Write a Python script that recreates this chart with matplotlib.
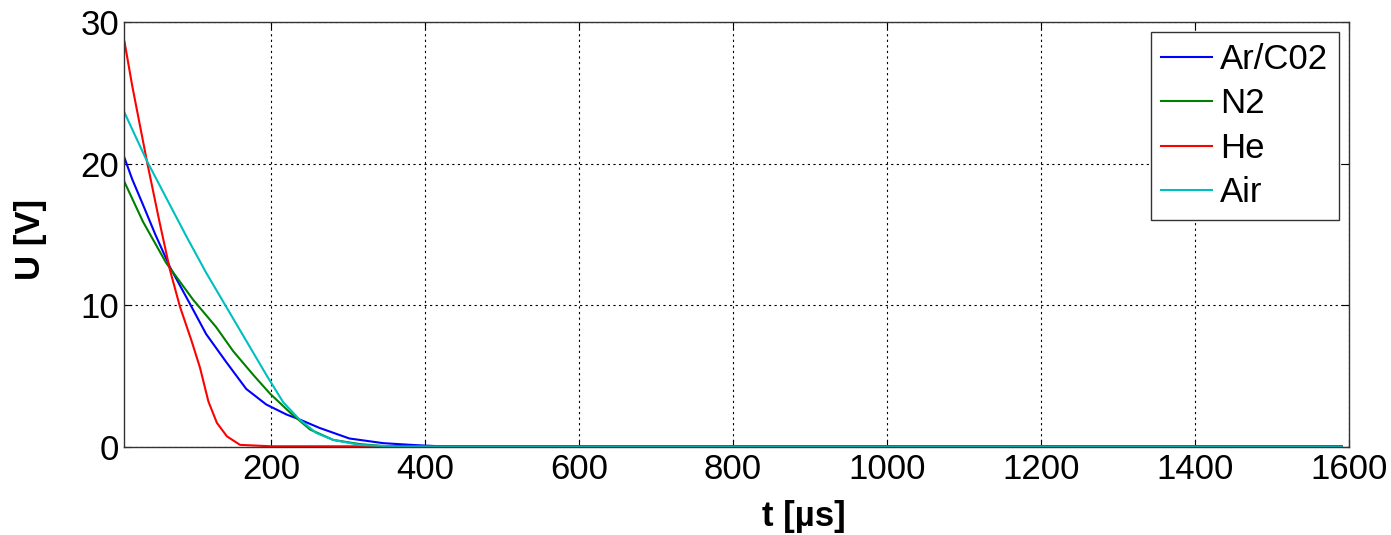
import numpy as np
import matplotlib.pyplot as plt

plt.rcParams['font.family'] = ['Liberation Sans', 'DejaVu Sans']

# decay curves read per gas, time in microseconds, voltage in volts
t_ar = [10, 20, 34, 50, 69, 95, 116, 142, 168, 194, 220, 237, 263, 302, 346, 385, 420, 600, 800, 1000, 1200, 1400, 1590]
u_ar = [20.4, 18.9, 17.1, 15.0, 12.7, 10.1, 7.97, 6.0, 4.1, 3.0, 2.3, 1.95, 1.35, 0.6, 0.27, 0.14, 0.05, 0.05, 0.05, 0.05, 0.05, 0.05, 0.05]

t_n2 = [10, 34, 64, 99, 129, 151, 177, 199, 225, 251, 281, 316, 346, 400, 600, 800, 1000, 1200, 1400, 1590]
u_n2 = [18.7, 15.9, 13.0, 10.4, 8.46, 6.77, 5.1, 3.76, 2.43, 1.23, 0.5, 0.2, 0.07, 0.05, 0.05, 0.05, 0.05, 0.05, 0.05, 0.05]

t_he = [10, 20, 39, 55, 69, 82, 97, 108, 119, 130, 143, 160, 200, 400, 600, 800, 1000, 1200, 1400, 1590]
u_he = [28.6, 25.5, 20.2, 16.0, 12.5, 9.9, 7.5, 5.6, 3.2, 1.7, 0.75, 0.15, 0.05, 0.05, 0.05, 0.05, 0.05, 0.05, 0.05, 0.05]

t_air = [10, 39, 64, 90, 116, 142, 168, 194, 216, 237, 259, 281, 316, 368, 400, 600, 800, 1000, 1200, 1400, 1590]
u_air = [23.6, 20.2, 17.6, 14.9, 12.3, 9.9, 7.5, 5.1, 3.16, 1.95, 0.99, 0.5, 0.14, 0.02, 0.02, 0.02, 0.02, 0.02, 0.02, 0.02, 0.02]

labels = ['Ar/C02', 'N2', 'He', 'Air']
colors = ['#0000ff', '#008000', '#ff0000', '#00bfbf']

fig = plt.figure(figsize=(13.91, 5.35), dpi=100)
ax = fig.add_axes([0.0895, 0.1645, 0.8805, 0.7945])

for t, u, lab, c in zip([t_ar, t_n2, t_he, t_air], [u_ar, u_n2, u_he, u_air], labels, colors):
    ax.plot(t, u, color=c, lw=1.5, label=lab)

ax.set_xlim(10, 1600)
ax.set_ylim(0, 30)
ax.set_xticks(np.arange(200, 1601, 200))
ax.set_yticks([0, 10, 20, 30])
ax.tick_params(direction='in', labelsize=25, length=5, width=0.8, top=True, right=True, pad=4)
ax.grid(True, color='black', linestyle=(0, (2, 3)), linewidth=0.8)
for s in ax.spines.values():
    s.set_linewidth(1.0)
    s.set_color('#333333')

ax.set_xlabel('t [µs]', fontsize=25, fontweight='bold')
ax.set_ylabel('U [V]', fontsize=25, fontweight='bold')
# label centres in figure pixels, converted to axes fractions
ax.xaxis.set_label_coords((804 - 124.5) / 1225, -(516 - 447) / 425, transform=ax.transAxes)
ax.xaxis.label.set_va('center')
ax.yaxis.set_label_coords(-(124.5 - 30) / 1225, 1 - (239 - 22) / 425, transform=ax.transAxes)
ax.yaxis.label.set_va('center')

leg = ax.legend(loc='upper right', fontsize=25, fancybox=False, framealpha=1,
                edgecolor='#333333', borderaxespad=0.3, handlelength=1.45,
                handletextpad=0.25, labelspacing=0.33, borderpad=0.3)
leg.get_frame().set_linewidth(1.0)

fig.savefig('out.png', dpi=100)
